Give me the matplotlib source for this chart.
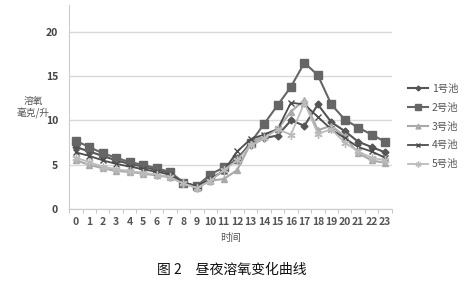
import numpy as np
from matplotlib import pyplot as plt

plt.rcParams['font.family'] = ['Noto Sans CJK SC', 'DejaVu Sans']

# 数据
hours = list(range(24))
pool1 = [7.0, 6.5, 6.0, 5.5, 5.1, 4.8, 4.4, 4.1, 3.0, 2.5, 3.4, 4.3,
         5.8, 7.2, 8.0, 8.3, 10.0, 9.4, 11.8, 9.8, 8.8, 7.6, 7.0, 6.4]
pool2 = [7.7, 7.0, 6.3, 5.8, 5.3, 5.0, 4.6, 4.2, 3.0, 2.6, 3.9, 4.7,
         5.6, 7.5, 9.6, 11.7, 13.8, 16.5, 15.1, 11.8, 10.1, 9.2, 8.4, 7.6]
pool3 = [5.5, 5.0, 4.6, 4.3, 4.2, 4.0, 3.8, 3.6, 2.9, 2.4, 3.2, 3.4,
         4.4, 7.4, 8.4, 9.0, 11.0, 12.3, 8.9, 9.4, 8.2, 6.3, 5.5, 5.2]
pool4 = [6.4, 6.0, 5.5, 5.1, 4.8, 4.5, 4.2, 3.9, 3.0, 2.6, 3.4, 4.3,
         6.5, 7.9, 8.4, 9.0, 12.0, 11.8, 10.4, 9.0, 8.0, 7.0, 6.5, 5.8]
pool5 = [5.8, 5.3, 4.8, 4.5, 4.3, 4.1, 3.9, 3.6, 2.9, 2.4, 3.2, 4.4,
         5.5, 7.2, 8.0, 9.0, 8.4, 12.0, 8.5, 9.0, 7.5, 6.5, 5.8, 5.5]
names = ['1号池', '2号池', '3号池', '4号池', '5号池']

fig = plt.figure(figsize=(4.67, 2.83), dpi=100)
ax = fig.add_axes([0.148, 0.261, 0.691, 0.721])

styles = [
    ('#555555', 'D', 3.5, 1.5),
    ('#666666', 's', 5.5, 1.5),
    ('#aaaaaa', '^', 5, 1.5),
    ('#4d4d4d', 'x', 5, 1.3),
    ('#bbbbbb', (6, 2, 0), 6, 1.3),
]
for vals, name, (c, m, ms, lw) in zip([pool1, pool2, pool3, pool4, pool5], names, styles):
    ax.plot(hours, vals, color=c, marker=m, markersize=ms, linewidth=lw,
            markeredgecolor=c, markeredgewidth=1.0, label=name)

ax.set_xlim(-0.5, 23.5)
ax.set_ylim(0, 23)
ax.set_yticks([0, 5, 10, 15, 20])
ax.set_xticks(hours)
ax.set_xticks(np.arange(-0.5, 24, 1), minor=True)
ax.tick_params(axis='x', which='major', length=0, pad=6, labelsize=7.5, colors='#555555')
ax.tick_params(axis='x', which='minor', length=3, color='#bbbbbb', direction='out')
ax.tick_params(axis='y', length=0, pad=8, labelsize=7.5, colors='#444444')
for lab in ax.get_xticklabels() + ax.get_yticklabels():
    lab.set_fontweight('bold')
ax.grid(axis='y', color='#d9d9d9', linewidth=1.0)
ax.set_axisbelow(True)
for s in ['top', 'right']:
    ax.spines[s].set_visible(False)
ax.spines['left'].set_color('#cccccc')
ax.spines['bottom'].set_color('#cccccc')

fig.text(0.071, 0.62, '溶氧\n毫克/升', ha='center', va='center', fontsize=7,
         color='#555555', linespacing=1.3)
fig.text(0.493, 0.158, '时间', ha='center', va='center', fontsize=7.5, color='#555555')
fig.text(0.497, 0.047, '图 2　昼夜溶氧变化曲线', ha='center', va='center',
         fontsize=10, color='#111111')

ax.legend(loc='center left', bbox_to_anchor=(1.02, 0.405), frameon=False,
          fontsize=7.5, labelcolor='#555555', handlelength=2.0, handletextpad=0.3,
          labelspacing=0.85, markerscale=0.7)

plt.savefig('out.png', dpi=100)
